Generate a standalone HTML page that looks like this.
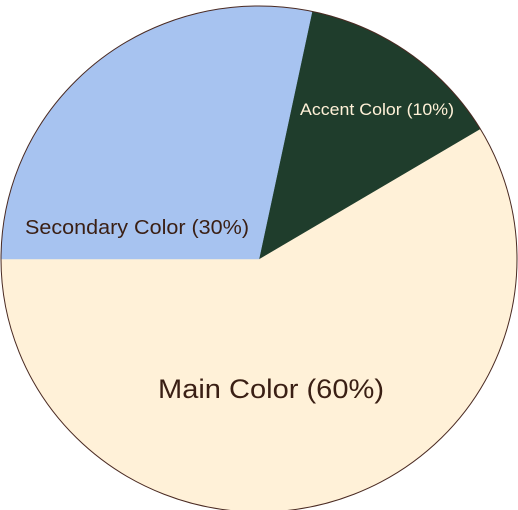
<!DOCTYPE html>
<html><head><meta charset="utf-8"><style>
html,body{margin:0;padding:0;background:#fff;}
svg{display:block;}
text{font-family:"Liberation Sans",sans-serif;}
</style></head><body>
<svg id="chart" width="518" height="510" viewBox="0 0 518 510" xmlns="http://www.w3.org/2000/svg"></svg>
<script>
const categories = ["Main Color (60%)", "Accent Color (10%)", "Secondary Color (30%)"];
const values = [58.6, 13.1, 28.3];
const colors = ["#fff1d8", "#1f3d2c", "#a7c3f0"];
const labelColors = ["#3a1f14", "#fff1d8", "#3a1f14"];
const labelSizes = [27, 17, 20];

const svg = document.getElementById('chart');
const NS = "http://www.w3.org/2000/svg";
const cx = 259, cy = 259, rx = 258, ry = 253;
const total = values.reduce((a,b)=>a+b,0);
function pt(deg, f){ const r = deg*Math.PI/180; return [cx + rx*f*Math.cos(r), cy - ry*f*Math.sin(r)]; }
let start = 180;
const names = ["main-color-slice","accent-color-slice","secondary-color-slice"];
const lnames = ["main-color-label","accent-color-label","secondary-color-label"];
values.forEach((v,i)=>{
  const sweep = v/total*360;
  const end = start + sweep;
  const [x1,y1] = pt(start,1), [x2,y2] = pt(end,1);
  const large = sweep > 180 ? 1 : 0;
  const p = document.createElementNS(NS,'path');
  p.setAttribute('d', `M${cx},${cy} L${x1},${y1} A${rx},${ry} 0 ${large} 0 ${x2},${y2} Z`);
  p.setAttribute('fill', colors[i]);
  p.setAttribute('stroke', colors[i]);
  p.setAttribute('stroke-width', '0.5');
  
  
  svg.appendChild(p);
  start = end;
});
const outline = document.createElementNS(NS,'ellipse');
outline.setAttribute('cx', cx); outline.setAttribute('cy', cy);
outline.setAttribute('rx', rx); outline.setAttribute('ry', ry);
outline.setAttribute('fill', 'none'); outline.setAttribute('stroke', '#4a2a22'); outline.setAttribute('stroke-width', '1');


svg.appendChild(outline);
const labelXY = [[271,398],[377,115],[137,234]];
const labelW = [226, 154, 224];
categories.forEach((c,i)=>{
  const t = document.createElementNS(NS,'text');
  t.setAttribute('x', labelXY[i][0]); t.setAttribute('y', labelXY[i][1]);
  t.setAttribute('text-anchor','middle');
  t.setAttribute('font-size', labelSizes[i]);
  t.setAttribute('fill', labelColors[i]);
  t.setAttribute('textLength', labelW[i]);
  t.setAttribute('lengthAdjust', 'spacingAndGlyphs');
  t.textContent = c;
  
  
  svg.appendChild(t);
});
</script>
</body></html>
